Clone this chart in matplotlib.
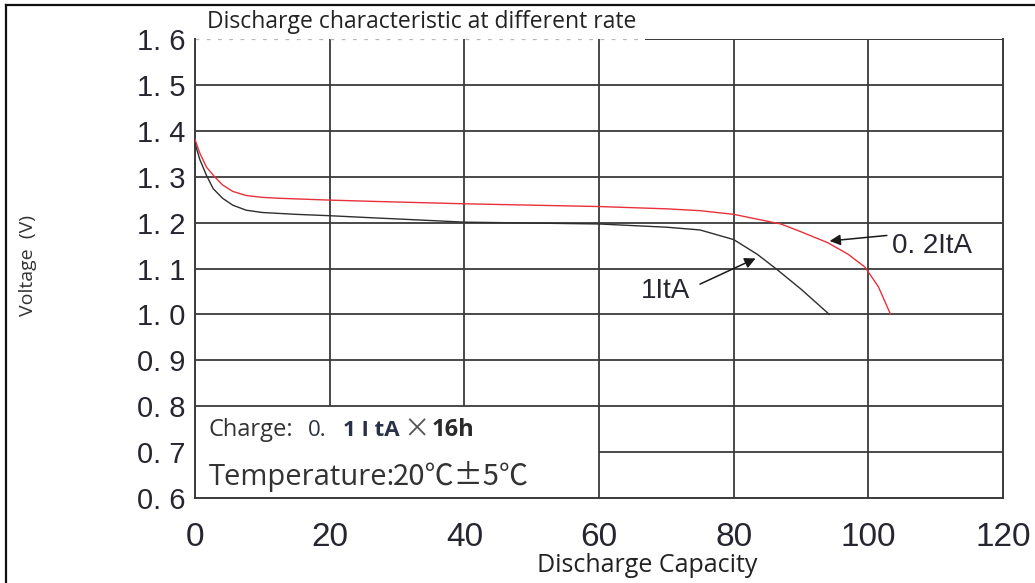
import matplotlib
matplotlib.use("Agg")
import matplotlib.pyplot as plt
from matplotlib.lines import Line2D

plt.rcParams['font.family'] = ['Liberation Sans', 'Noto Sans CJK JP', 'DejaVu Sans']

# discharge capacity / voltage
cap_02 = [0, 0.7, 1.7, 2.9, 4.1, 5.6, 7.6, 10, 12.5, 20, 27, 40, 50, 60, 70, 75,
          80, 85, 87, 90, 94, 97, 99.5, 101.5, 103.3]
volt_02 = [1.381, 1.352, 1.321, 1.300, 1.282, 1.268, 1.259, 1.255, 1.253, 1.249,
           1.246, 1.241, 1.238, 1.235, 1.230, 1.226, 1.218, 1.203, 1.197, 1.180,
           1.156, 1.131, 1.103, 1.060, 1.000]

cap_1 = [0, 0.7, 1.7, 2.7, 4.1, 5.6, 7.6, 10, 15, 20, 27, 30, 40, 50, 60, 70, 75,
         80, 83.5, 86.5, 90, 94.2]
volt_1 = [1.373, 1.338, 1.303, 1.274, 1.253, 1.238, 1.227, 1.222, 1.218, 1.215,
          1.210, 1.208, 1.201, 1.199, 1.197, 1.190, 1.184, 1.163, 1.131, 1.097,
          1.055, 1.000]

x_ticks = [0, 20, 40, 60, 80, 100, 120]
y_ticks = [0.6, 0.7, 0.8, 0.9, 1.0, 1.1, 1.2, 1.3, 1.4, 1.5, 1.6]
y_labels = ['0. 6', '0. 7', '0. 8', '0. 9', '1. 0', '1. 1', '1. 2', '1. 3', '1. 4', '1. 5', '1. 6']

grid_c = '#3a3a3a'
txt_c = '#262630'

fig = plt.figure(figsize=(10.35, 5.83), dpi=100)
ax = fig.add_axes([0.1884, 0.1458, 0.7807, 0.7873])
ax.set_xlim(0, 120)
ax.set_ylim(0.6, 1.6)

# grid, with the blank box bottom-left
ax.vlines(x_ticks[1:3], y_ticks[2], y_ticks[-1], color=grid_c, lw=1.3, zorder=1)
ax.vlines(x_ticks[3:6], y_ticks[0], y_ticks[-1], color=grid_c, lw=1.3, zorder=1)
ax.hlines(y_ticks[2:-1], x_ticks[0], x_ticks[-1], color=grid_c, lw=1.3, zorder=1)
ax.hlines(y_ticks[1], x_ticks[3], x_ticks[-1], color=grid_c, lw=1.3, zorder=1)

for side in ['left', 'right', 'bottom']:
    ax.spines[side].set_color(grid_c)
    ax.spines[side].set_linewidth(1.4)
ax.spines['top'].set_visible(False)
ax.hlines(1.6, 66.8, 120, color=grid_c, lw=1.4, zorder=1)
ax.hlines(1.6, 0, 66.8, color='#b5b5b5', lw=0.9, linestyles=(0, (3, 6)), zorder=1)

ax.plot(cap_02, volt_02, color='#e8313c', lw=1.0, zorder=3)
ax.plot(cap_1, volt_1, color='#2e2e2e', lw=1.0, zorder=3)

ax.set_xticks(x_ticks)
ax.set_xticklabels([str(v) for v in x_ticks], fontsize=24, color=txt_c,
                   family='Liberation Sans')
ax.set_yticks(y_ticks)
ax.set_yticklabels(y_labels, fontsize=21, color=txt_c, family='Liberation Sans')
ax.tick_params(axis='both', length=0)
ax.tick_params(axis='x', pad=17)
ax.tick_params(axis='y', pad=7)

# curve labels
arrow = dict(arrowstyle='-|>', color='#1a1a1a', lw=1.1, mutation_scale=16,
             shrinkA=0, shrinkB=0)
ax.annotate('', xy=(94.25, 1.160), xytext=(102.75, 1.172), arrowprops=arrow)
ax.text(103.5, 1.150, '0. 2ItA', fontsize=20, color=txt_c, va='center', ha='left',
        family='Liberation Sans')
ax.annotate('', xy=(83.25, 1.122), xytext=(75, 1.066), arrowprops=arrow)
ax.text(73.6, 1.050, '1ItA', fontsize=20, color=txt_c, va='center', ha='right',
        family='Liberation Sans')

# conditions box
ax.text(2.0, 0.748, 'Charge:', family='Open Sans', fontsize=17, color='#333333',
        va='center')
ax.text(16.8, 0.748, '0.', family='Open Sans', fontsize=16, color='#2a3048', va='center')
ax.text(22.0, 0.748, '1 I tA', family='Open Sans', fontsize=16, fontweight='bold',
        color='#2a3048', va='center')
ax.text(31.0, 0.748, '×', family=['Noto Sans CJK JP', 'DejaVu Sans'], fontsize=19,
        color='#555555', va='center')
ax.text(35.2, 0.748, '16h', family='Open Sans', fontsize=17, fontweight='bold',
        color='#2a2a2a', va='center')
ax.text(2.0, 0.644, 'Temperature:', family='Open Sans', fontsize=21, color='#333333',
        va='center')
ax.text(29.4, 0.646, '20℃±5℃', fontsize=21, color='#333333',
        family=['Noto Sans CJK JP', 'DejaVu Sans'], va='center')

fig.text(0.2, 0.962, 'Discharge characteristic at different rate', family='Open Sans',
         fontsize=16.5, color='#222222', va='center', ha='left',
         bbox=dict(facecolor='white', edgecolor='none', pad=1))
fig.text(0.625, 0.03, 'Discharge Capacity', family='Open Sans', fontsize=18,
         color='#222222', ha='center', va='center')
fig.text(0.027, 0.545, 'Voltage  (V)', family='Open Sans', fontsize=14,
         color='#333333', rotation=90, ha='center', va='center')

# frame around the picture
fig.add_artist(Line2D([6 / 1035, 6 / 1035], [0, 1 - 5 / 583], transform=fig.transFigure,
                      color='#111111', lw=1.6))
fig.add_artist(Line2D([6 / 1035, 1], [1 - 5 / 583, 1 - 5 / 583], transform=fig.transFigure,
                      color='#111111', lw=1.6))

fig.savefig('out.png', dpi=100, facecolor='white')
